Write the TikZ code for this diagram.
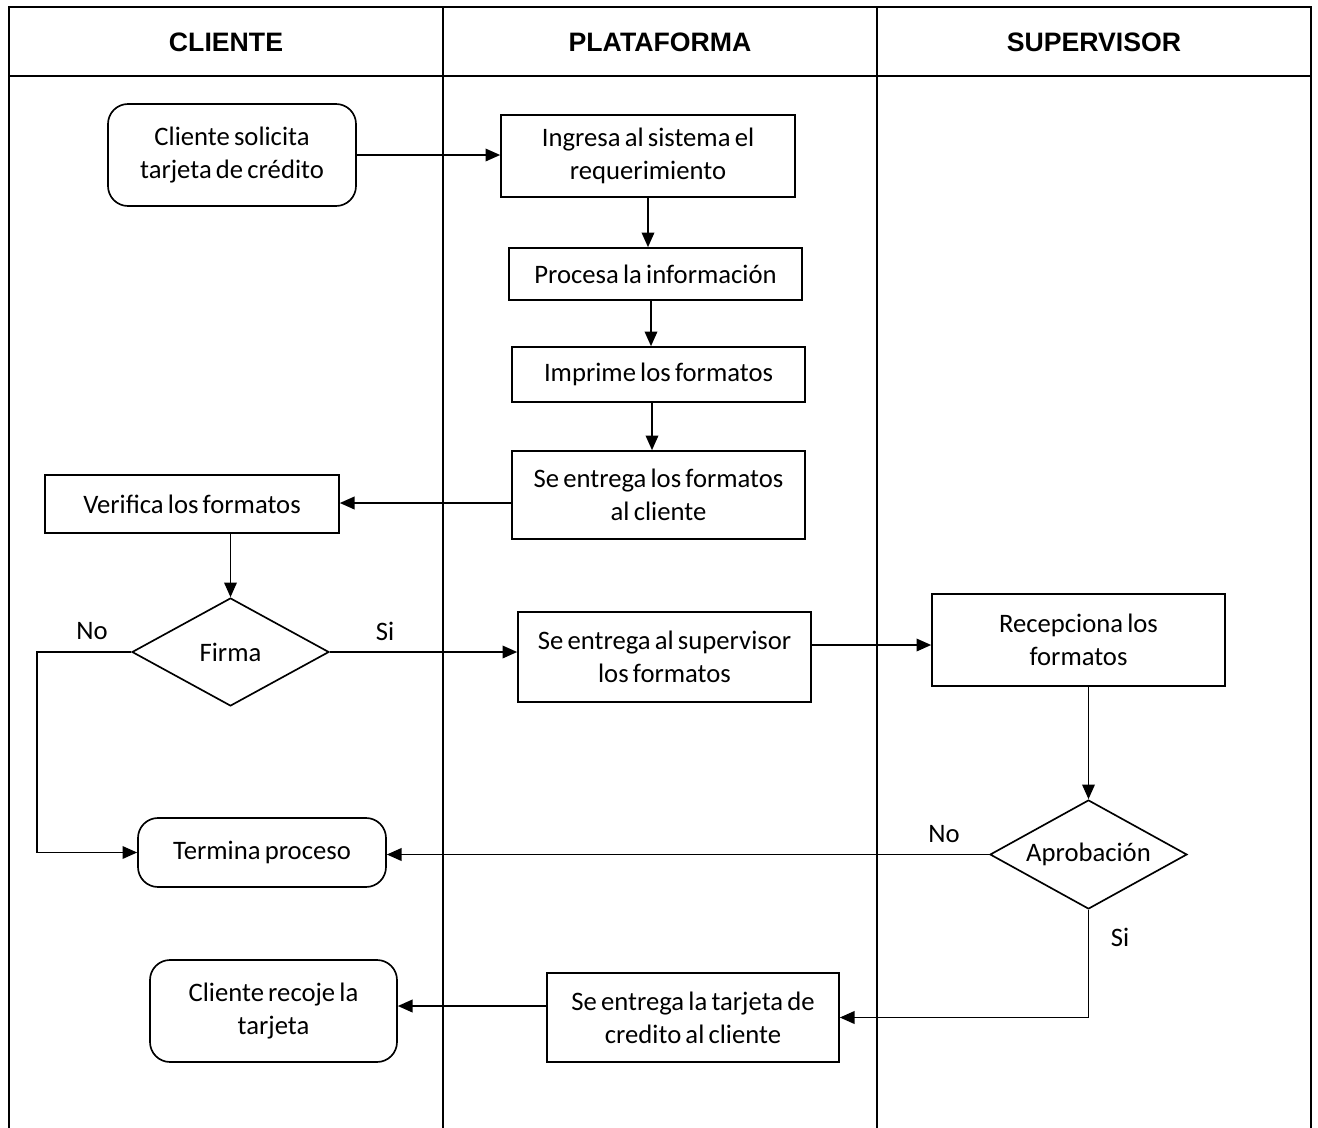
\documentclass[tikz,border=0pt]{standalone}
\usepackage{fontspec}
\setmainfont{Carlito}[WordSpace=0.7]
\newfontfamily\headfont{Liberation Sans}
\usetikzlibrary{arrows.meta,shapes.geometric}

\tikzset{
  lane/.style={line width=1.5pt},
  box/.style={draw, line width=1.25pt, rectangle, inner sep=0pt, align=center,
    fill=white, font=\fontsize{20}{24.75}\selectfont},
  roundbox/.style={box, rounded corners=15pt},
  decision/.style={draw, line width=1.25pt, diamond, inner sep=0pt, fill=white,
    font=\fontsize{20}{24.75}\selectfont},
  flow/.style={line width=1.1pt, -{Triangle[length=11pt,width=9.5pt]}},
  plain/.style={line width=1.1pt},
  tag/.style={font=\fontsize{20}{24}\selectfont, inner sep=0pt},
  head/.style={font=\headfont\bfseries\fontsize{20}{24}\selectfont, inner sep=0pt}
}

\begin{document}
\begin{tikzpicture}[x=0.75pt, y=-0.75pt]
  \useasboundingbox (0,0) rectangle (1318,1128);

  % swimlane frame
  \draw[lane] (9,1128) -- (9,7) -- (1311,7) -- (1311,1128);
  \draw[lane] (9,76) -- (1311,76);
  \draw[lane] (443,7) -- (443,1128);
  \draw[lane] (877,7) -- (877,1128);

  % lane titles
  \node[head] (hcli) at (226,42) {CLIENTE};
  \node[head] (hpla) at (660,42) {PLATAFORMA};
  \node[head] (hsup) at (1094,42) {SUPERVISOR};

  % steps
  \node[roundbox, minimum width=186pt, minimum height=76.5pt] (solicita) at (232,155)
    {Cliente solicita\\tarjeta de crédito};
  \node[box, minimum width=220.5pt, minimum height=61.5pt] (ingresa) at (648,156)
    {Ingresa al sistema el\\requerimiento};
  \node[box, minimum width=219.75pt, minimum height=39pt] (procesa) at (655.5,274)
    {Procesa la información};
  \node[box, minimum width=219.75pt, minimum height=41.25pt] (imprime) at (658.5,374.5)
    {Imprime los formatos};
  \node[box, minimum width=219.75pt, minimum height=66pt] (entrega) at (658.5,495)
    {Se entrega los formatos\\al cliente};
  \node[box, minimum width=220.5pt, minimum height=43.5pt] (verifica) at (192,504)
    {Verifica los formatos};
  \node[decision, minimum width=147.75pt, minimum height=81pt] (firma) at (230.5,652)
    {\makebox[0pt]{Firma}};
  \node[box, minimum width=219.75pt, minimum height=67.5pt] (supervisor) at (664.5,657)
    {Se entrega al supervisor\\los formatos};
  \node[box, minimum width=219.75pt, minimum height=69pt] (recep) at (1078.5,640)
    {Recepciona los\\formatos};
  \node[decision, minimum width=147.75pt, minimum height=81.75pt] (aprob) at (1088.5,854.5)
    {\makebox[0pt]{Aprobación}};
  \node[roundbox, minimum width=186pt, minimum height=51.75pt] (termina) at (262,852.5)
    {Termina proceso};
  \node[box, minimum width=219pt, minimum height=66.75pt] (tarjeta) at (693,1017.5)
    {Se entrega la tarjeta de\\credito al cliente};
  \node[roundbox, minimum width=185.25pt, minimum height=76.5pt] (recoje) at (273.5,1011)
    {Cliente recoje la\\tarjeta};

  % branch labels
  \node[tag] (firmano) at (92,631) {No};
  \node[tag] (firmasi) at (385,631) {Si};
  \node[tag] (aprobno) at (944,834) {No};
  \node[tag] (aprobsi) at (1120,937) {Si};

  % connectors
  \draw[flow] (solicita.east) -- (ingresa.west |- solicita.east);
  \draw[flow] (ingresa.south) -- (ingresa.south |- procesa.north);
  \draw[flow] (procesa.south -| 651,0) -- (imprime.north -| 651,0);
  \draw[flow] (imprime.south -| 652,0) -- (entrega.north -| 652,0);
  \draw[flow] (entrega.west |- 0,503) -- (verifica.east |- 0,503);
  \draw[flow] (firma.north |- verifica.south) -- (firma.north);
  \draw[flow] (firma.east) -- (firma.east -| supervisor.west);
  \draw[flow] (firma.west) -- ++(-94,0) |- (termina.west);
  \draw[flow] (supervisor.east |- 0,645) -- (recep.west |- 0,645);
  \draw[flow] (aprob.north |- recep.south) -- (aprob.north);
  \draw[flow] (aprob.west) -- (aprob.west -| termina.east);
  \draw[flow] (aprob.south) |- (tarjeta.east);
  \draw[flow] (tarjeta.west |- 0,1006) -- (recoje.east |- 0,1006);
\end{tikzpicture}
\end{document}
